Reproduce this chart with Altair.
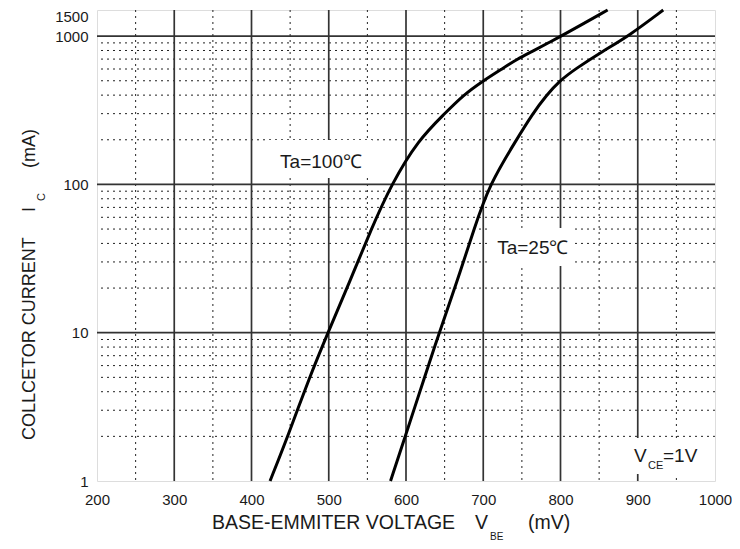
import altair as alt
import pandas as pd

# ---- data ----
ic_25 = [1, 2, 5, 10, 22, 50, 100, 200, 300, 400, 500, 600, 800, 1000, 1500]
vbe_25 = [580, 599, 624, 643, 666, 688, 708, 743, 764, 782, 799, 819, 856, 888, 933]
ic_100 = [1, 2, 5, 10, 22, 50, 100, 200, 300, 400, 500, 600, 700, 800, 900, 1000, 1500]
vbe_100 = [424, 447, 475, 499, 527, 555, 581, 616, 650, 674, 700, 724, 744, 766, 784, 801, 861]

x_ticks = [200, 300, 400, 500, 600, 700, 800, 900, 1000]
y_ticks = [1, 10, 100, 1000, 1500]
major_x = [300, 400, 500, 600, 700, 800, 900]
minor_x = [250, 350, 450, 550, 650, 750, 850, 950]
major_y = [10, 100, 1000]
minor_y = [2, 3, 4, 5, 6, 7, 8, 9, 20, 30, 40, 50, 60, 70, 80, 90,
           200, 300, 400, 500, 600, 700, 800, 900]

curve_labels = ["Ta=100℃", "Ta=25℃"]
label_vbe = [437, 718]
label_ic = [142, 37]

FONT = "Liberation Sans"
W, H = 618, 471

xscale = alt.Scale(domain=[200, 1000], nice=False, zero=False)
yscale = alt.Scale(type="log", domain=[1, 1500], nice=False)
xaxis = alt.Axis(values=x_ticks, title=None, grid=False, ticks=False, domain=False,
                 labelFontSize=15, labelPadding=11, labelColor="#1a1a1a", labelFont=FONT,
                 format="d", labelFlush=False, labelOverlap=False)
yaxis = alt.Axis(values=y_ticks, title=None, grid=False, ticks=False, domain=False,
                 labelFontSize=15, labelPadding=9, labelColor="#1a1a1a", labelFont=FONT,
                 format="d", labelFlush=False, labelOverlap=False,
                 labelOffset={"condition": {"test": "datum.value >= 1500", "value": 6},
                              "value": 0})


def X(f):
    return alt.X(f, type="quantitative", scale=xscale, axis=xaxis)


def Y(f):
    return alt.Y(f, type="quantitative", scale=yscale, axis=yaxis)


curves = pd.concat([
    pd.DataFrame({"vbe": vbe_100, "ic": ic_100, "ta": "100"}),
    pd.DataFrame({"vbe": vbe_25, "ic": ic_25, "ta": "25"}),
])

gx_minor = alt.Chart(pd.DataFrame({"v": minor_x})).mark_rule(
    color="#222", strokeWidth=1, strokeDash=[2, 4]).encode(x=X("v"))
gx_major = alt.Chart(pd.DataFrame({"v": major_x})).mark_rule(
    color="#333", strokeWidth=1.7).encode(x=X("v"))
gy_minor = alt.Chart(pd.DataFrame({"v": minor_y})).mark_rule(
    color="#222", strokeWidth=1, strokeDash=[2, 4]).encode(y=Y("v"))
gy_major = alt.Chart(pd.DataFrame({"v": major_y})).mark_rule(
    color="#333", strokeWidth=1.7).encode(y=Y("v"))

# white boxes behind the annotation texts
mask1 = alt.Chart().mark_rect(color="white").encode(
    x=alt.value(171), x2=alt.value(275), y=alt.value(130), y2=alt.value(168))
mask2 = alt.Chart().mark_rect(color="white").encode(
    x=alt.value(393), x2=alt.value(475), y=alt.value(218), y2=alt.value(256))
mask3 = alt.Chart().mark_rect(color="white").encode(
    x=alt.value(531), x2=alt.value(608), y=alt.value(428), y2=alt.value(464))

lines = alt.Chart(curves).mark_line(
    color="black", strokeWidth=3, interpolate="basis").encode(
    x=X("vbe"), y=Y("ic"), detail="ta:N", order="ic:Q")

ann = alt.Chart(pd.DataFrame({"vbe": label_vbe, "ic": label_ic, "t": curve_labels})).mark_text(
    font=FONT, fontSize=19, align="left", baseline="middle", color="#1a1a1a").encode(
    x=X("vbe"), y=Y("ic"), text="t:N")


def txt(s, x, y, size=18, angle=0):
    kw = dict(font=FONT, fontSize=size, align="left", baseline="middle",
              color="#1a1a1a", text=s)
    if angle:
        kw["angle"] = angle
    return alt.Chart().mark_text(**kw).encode(x=alt.value(x), y=alt.value(y))


texts = [
    txt("V", 537, 446, 19), txt("CE", 551, 456, 11), txt("=1V", 566, 446, 19),
    txt("BASE-EMMITER VOLTAGE", 115, 513, 19.5),
    txt("V", 378, 513, 19.5), txt("BE", 393, 527, 10), txt("(mV)", 431, 513, 19.5),
    txt("COLLCETOR CURRENT", -67, 430, 18, 270),
    txt("I", -67, 202, 18, 270), txt("C", -55, 191, 11, 270),
    txt("(mA)", -67, 158, 18, 270),
]

chart = alt.layer(
    gx_minor, gy_minor, gx_major, gy_major, mask1, mask2, mask3, lines, ann, *texts
).properties(
    width=W, height=H,
    autosize=alt.AutoSizeParams(type="none"),
    padding={"left": 89, "top": 2, "right": 17, "bottom": 60},
).configure_view(
    stroke="black", strokeWidth=2
).configure(background="white")

chart.save("out.html", embed_options={"renderer": "svg", "actions": False})
